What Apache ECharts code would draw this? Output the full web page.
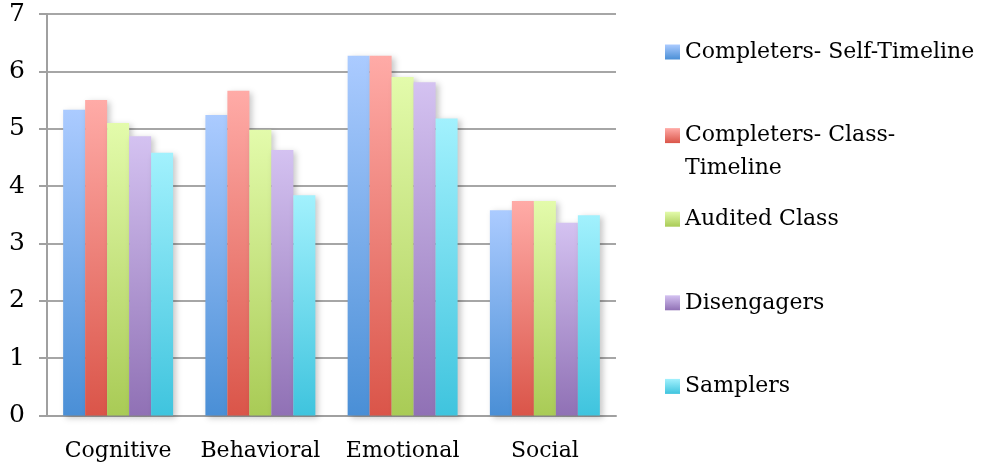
<!DOCTYPE html>
<html>
<head>
<meta charset="utf-8">
<script src="https://cdn.jsdelivr.net/npm/echarts@6/dist/echarts.min.js"></script>
<style>
  html, body { margin: 0; padding: 0; background: #fff; }
  #chart { width: 982px; height: 467px; }
</style>
</head>
<body>
<div id="chart"></div>
<script>
// Engagement categories and mean scores per learner group
const categories = ['Cognitive', 'Behavioral', 'Emotional', 'Social'];
const seriesNames = [
  'Completers- Self-Timeline',
  'Completers- Class-Timeline',
  'Audited Class',
  'Disengagers',
  'Samplers'
];
const selfTimeline  = [5.33, 5.24, 6.27, 3.58];
const classTimeline = [5.50, 5.66, 6.27, 3.74];
const auditedClass  = [5.10, 4.98, 5.90, 3.74];
const disengagers   = [4.87, 4.63, 5.81, 3.36];
const samplers      = [4.58, 3.84, 5.18, 3.49];
const yTicks = [0, 1, 2, 3, 4, 5, 6, 7];

const seriesValues = [selfTimeline, classTimeline, auditedClass, disengagers, samplers];
// top / bottom colours of each bar gradient
const gradients = [
  ['#abcbff', '#4a8fd6'],
  ['#ffaba7', '#da5549'],
  ['#e3fbab', '#a9cb56'],
  ['#d4c2f1', '#9071b5'],
  ['#a2f1fd', '#3fc4de']
];
const FONT = 'DejaVu Serif';
const FONT_SIZE = 22;

const chart = echarts.init(document.getElementById('chart'));

chart.setOption({
  animation: false,
  backgroundColor: '#ffffff',
  grid: { left: 47, right: 366, top: 14, bottom: 51.5, containLabel: false },
  legend: {
    orient: 'vertical',
    left: 665,
    top: 41,
    padding: 0,
    itemWidth: 15,
    itemHeight: 15,
    itemGap: 61.6,
    icon: 'rect',
    data: seriesNames,
    formatter: function (name) {
      return name === 'Completers- Class-Timeline' ? 'Completers- Class-' : name;
    },
    textStyle: { fontFamily: FONT, fontSize: FONT_SIZE, color: '#000' },
    selectedMode: false
  },
  graphic: [{
    type: 'text',
    left: 685,
    top: 157,
    style: { text: 'Timeline', fontFamily: FONT, fontSize: FONT_SIZE, fill: '#000' }
  }],
  xAxis: {
    type: 'category',
    data: categories,
    axisLine: { lineStyle: { color: '#a0a0a0', width: 2 } },
    axisTick: { show: false },
    axisLabel: { interval: 0, fontFamily: FONT, fontSize: FONT_SIZE, color: '#000', margin: 25 }
  },
  yAxis: {
    type: 'value',
    min: yTicks[0],
    max: yTicks[yTicks.length - 1],
    interval: 1,
    axisLine: { show: true, lineStyle: { color: '#a0a0a0', width: 2 } },
    axisTick: { show: true, length: 8, lineStyle: { color: '#a0a0a0', width: 2 } },
    axisLabel: { fontFamily: FONT, fontSize: 25, color: '#000', margin: 22 },
    splitLine: { lineStyle: { color: '#a6a6a6', width: 2 } }
  },
  series: seriesNames.map(function (name, i) {
    return {
      name: name,
      type: 'bar',
      data: seriesValues[i],
      barGap: '0%',
      barCategoryGap: '22.7%',
      itemStyle: {
        color: new echarts.graphic.LinearGradient(0, 0, 0, 1, [
          { offset: 0, color: gradients[i][0] },
          { offset: 1, color: gradients[i][1] }
        ]),
        shadowColor: 'rgba(0,0,0,0.22)',
        shadowBlur: 6,
        shadowOffsetX: 3,
        shadowOffsetY: 2
      }
    };
  })
});
</script>
</body>
</html>
